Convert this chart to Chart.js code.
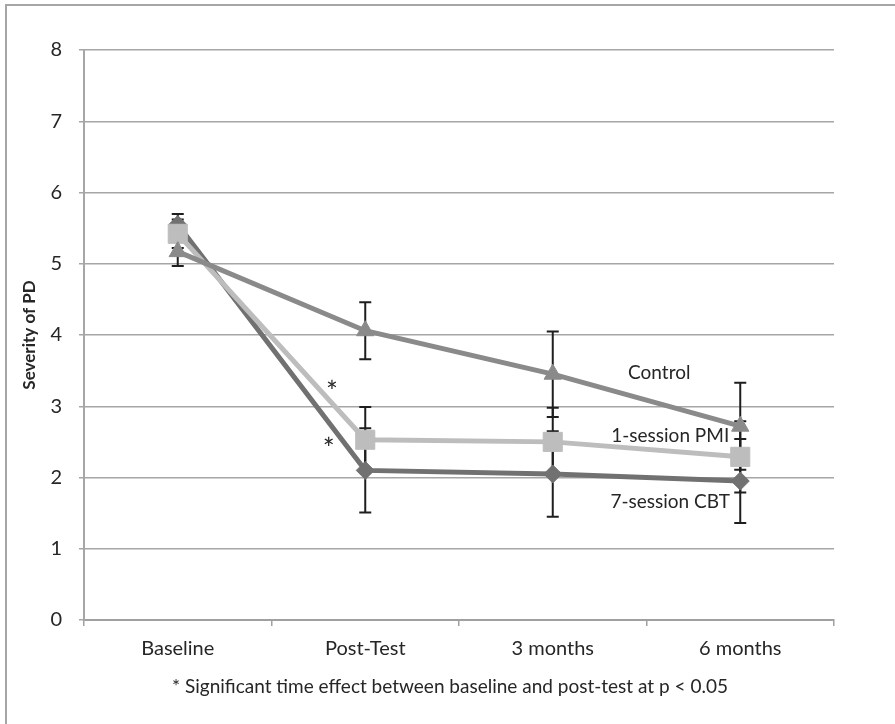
<!DOCTYPE html>
<html><head><meta charset="utf-8">
<script src="https://cdn.jsdelivr.net/npm/chart.js@4"></script>
<style>html,body{margin:0;padding:0;background:#fff;}#wrap{width:895px;height:724px;position:relative;}</style>
</head><body><div id="wrap"><canvas id="c" width="895" height="724"></canvas></div>
<script>
const categories = ['Baseline', 'Post-Test', '3 months', '6 months'];
const controlValues = [5.17, 4.06, 3.45, 2.72];
const pmiValues = [5.42, 2.53, 2.50, 2.29];
const cbtValues = [5.55, 2.10, 2.05, 1.95];
const controlErr = [0.20, 0.40, 0.60, 0.61];
const pmiErr = [0.20, 0.46, 0.48, 0.50];
const cbtErr = [0.15, 0.59, 0.60, 0.59];
const yTicks = [0, 1, 2, 3, 4, 5, 6, 7, 8];
const seriesLabels = ['Control', '1-session PMI', '7-session CBT'];
const yTitle = 'Severity of PD';
const footnote = '* Significant time effect between baseline and post-test at p < 0.05';

const FONT = 'Lato, "Open Sans", sans-serif';
const errs = [controlErr, pmiErr, cbtErr];

const errorBars = {
  id: 'errorBars',
  beforeDatasetsDraw(chart) {
    const ctx = chart.ctx, y = chart.scales.y;
    ctx.save();
    ctx.strokeStyle = '#1e1e1e';
    ctx.lineWidth = 2;
    chart.data.datasets.forEach((ds, i) => {
      const meta = chart.getDatasetMeta(i);
      ds.data.forEach((v, j) => {
        const px = meta.data[j].x;
        const hi = y.getPixelForValue(v + errs[i][j]);
        const lo = y.getPixelForValue(v - errs[i][j]);
        ctx.beginPath();
        ctx.moveTo(px, hi); ctx.lineTo(px, lo);
        ctx.moveTo(px - 6, hi); ctx.lineTo(px + 6, hi);
        ctx.moveTo(px - 6, lo); ctx.lineTo(px + 6, lo);
        ctx.stroke();
      });
    });
    ctx.restore();
  }
};

const decor = {
  id: 'decor',
  afterDraw(chart) {
    const ctx = chart.ctx, x = chart.scales.x, y = chart.scales.y;
    ctx.save();
    ctx.strokeStyle = '#a6a6a6';
    ctx.lineWidth = 2;
    ctx.beginPath();
    ctx.moveTo(6, 724); ctx.lineTo(6, 5); ctx.lineTo(895, 5);
    ctx.stroke();
    ctx.fillStyle = '#262626';
    ctx.save();
    ctx.translate(30, 335);
    ctx.rotate(-Math.PI / 2);
    ctx.font = 'bold 17px ' + FONT;
    ctx.textAlign = 'center';
    ctx.textBaseline = 'middle';
    ctx.fillText(yTitle, 0, 0);
    ctx.restore();
    ctx.font = '19px ' + FONT;
    ctx.textAlign = 'center';
    ctx.textBaseline = 'middle';
    const lx = x.getPixelForValue(3);
    ctx.fillText(seriesLabels[0], lx - 81, y.getPixelForValue(3.47));
    ctx.fillText(seriesLabels[1], lx - 70, y.getPixelForValue(2.58));
    ctx.fillText(seriesLabels[2], lx - 70, y.getPixelForValue(1.66));
    const x0 = x.getPixelForValue(0), x1 = x.getPixelForValue(1);
    ctx.font = '28px ' + FONT;
    ctx.fillText('*', x0 + (x1 - x0) * 0.822, y.getPixelForValue(3.28) + 7);
    ctx.fillText('*', x0 + (x1 - x0) * 0.805, y.getPixelForValue(2.48) + 7);
    ctx.font = '19px ' + FONT;
    ctx.fillText(footnote, 450, 687);
    ctx.restore();
  }
};

new Chart(document.getElementById('c'), {
  type: 'line',
  data: {
    labels: categories,
    datasets: [
      { label: seriesLabels[0], data: controlValues, order: 0,
        borderColor: '#8a8a8a', backgroundColor: '#8a8a8a', borderWidth: 5,
        pointStyle: 'triangle', pointRadius: 10, pointBorderWidth: 1, pointBorderColor: '#8a8a8a' },
      { label: seriesLabels[1], data: pmiValues, order: 1,
        borderColor: '#bdbdbd', backgroundColor: '#bdbdbd', borderWidth: 5,
        pointStyle: 'rect', pointRadius: 13.5, pointBorderWidth: 1, pointBorderColor: '#bdbdbd' },
      { label: seriesLabels[2], data: cbtValues, order: 2,
        borderColor: '#717171', backgroundColor: '#717171', borderWidth: 5,
        pointStyle: 'rectRot', pointRadius: 9, pointBorderWidth: 1, pointBorderColor: '#717171' }
    ]
  },
  options: {
    responsive: false,
    animation: false,
    layout: { padding: { left: 0, top: 50, right: 61, bottom: 0 } },
    plugins: { legend: { display: false }, tooltip: { enabled: false } },
    elements: { line: { tension: 0 } },
    scales: {
      x: {
        offset: true,
        grid: { offset: true, drawOnChartArea: false, color: '#a0a0a0', lineWidth: 1.5, tickLength: 6 },
        border: { color: '#a0a0a0', width: 2 },
        ticks: { color: '#262626', font: { family: FONT, size: 20 }, padding: 11, maxRotation: 0 },
        afterFit(s) { s.height = 104; }
      },
      y: {
        min: 0, max: 8,
        afterBuildTicks(s) { s.ticks = yTicks.map(v => ({ value: v })); },
        grid: { color: '#a6a6a6', lineWidth: 1.5, tickLength: 5 },
        border: { color: '#a6a6a6', width: 2 },
        ticks: { color: '#262626', font: { family: FONT, size: 20 }, padding: 17 },
        afterFit(s) { s.width = 84; }
      }
    }
  },
  plugins: [errorBars, decor]
});
</script>
</body></html>
